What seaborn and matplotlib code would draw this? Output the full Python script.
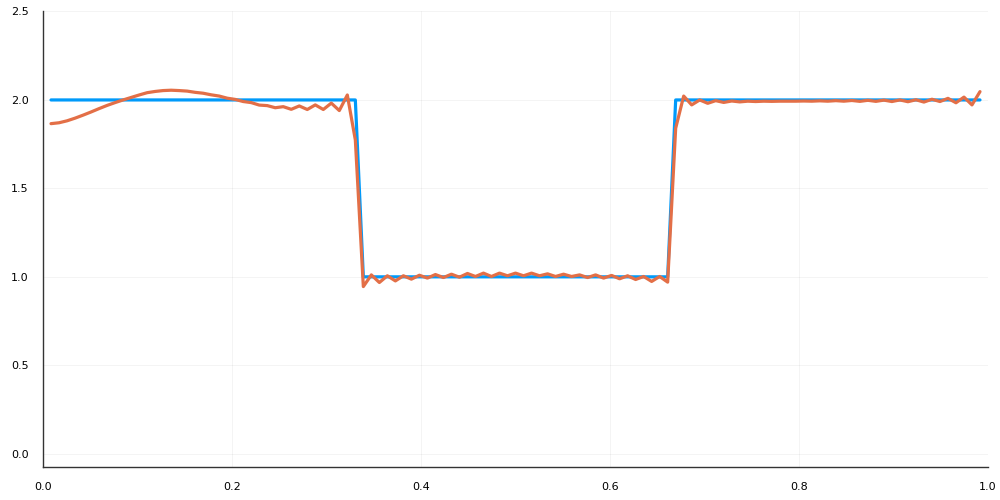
import numpy as np
import pandas as pd
import matplotlib
matplotlib.use('Agg')
import matplotlib.pyplot as plt
import seaborn as sns

# sample grid (117 samples, step 1/118)
t = np.arange(1, 118) / 118

# ideal square signal
square = [2.0] * 39 + [1.0] * 39 + [2.0] * 39

# filtered signal
filtered = [
    1.866, 1.871, 1.882, 1.897, 1.914, 1.932, 1.951, 1.969, 1.985, 2.000,
    2.014, 2.028, 2.041, 2.048, 2.053, 2.055, 2.053, 2.050, 2.043, 2.038,
    2.029, 2.022, 2.010, 2.003, 1.991, 1.985, 1.971, 1.968, 1.956, 1.962,
    1.947, 1.966, 1.946, 1.972, 1.946, 1.982, 1.940, 2.028, 1.774,
    0.945, 1.011, 0.968, 1.006, 0.977, 1.006, 0.987, 1.009, 0.993, 1.013,
    0.996, 1.015, 0.998, 1.019, 1.002, 1.021, 1.002, 1.021, 1.006, 1.021,
    1.006, 1.021, 1.006, 1.017, 1.002, 1.015, 1.002, 1.011, 0.996, 1.011,
    0.993, 1.008, 0.989, 1.006, 0.985, 1.002, 0.974, 1.002, 0.970,
    1.840, 2.022, 1.972, 2.000, 1.981, 1.996, 1.986, 1.994, 1.989, 1.993,
    1.991, 1.993, 1.992, 1.993, 1.993, 1.993, 1.994, 1.993, 1.995, 1.993,
    1.996, 1.993, 1.997, 1.992, 1.998, 1.992, 1.999, 1.991, 2.000, 1.990,
    2.001, 1.988, 2.004, 1.991, 2.009, 1.984, 2.016, 1.972, 2.047,
]

x_ticks = [0.0, 0.2, 0.4, 0.6, 0.8, 1.0]
y_ticks = [0.0, 0.5, 1.0, 1.5, 2.0, 2.5]

sns.set_style('white')
plt.rcParams['font.family'] = ['DejaVu Sans']

df = pd.DataFrame({'t': t, 'square': square, 'filtered': filtered})

fig = plt.figure(figsize=(10, 5), dpi=100)
ax = fig.add_axes([0.043, 0.066, 0.945, 0.911])

sns.lineplot(data=df, x='t', y='square', ax=ax, color='#009AFA', lw=2.3)
sns.lineplot(data=df, x='t', y='filtered', ax=ax, color='#E36F47', lw=2.3)

ax.set_xlim(0, 1)
ax.set_ylim(-0.075, 2.5)
ax.set_xticks(x_ticks)
ax.set_yticks(y_ticks)
ax.set_xticklabels(['%.1f' % v for v in x_ticks])
ax.set_yticklabels(['%.1f' % v for v in y_ticks])
ax.set_xlabel('')
ax.set_ylabel('')
ax.grid(True, color='#000000', alpha=0.05, lw=0.6)
ax.set_axisbelow(True)

for s in ['top', 'right']:
    ax.spines[s].set_visible(False)
for s in ['left', 'bottom']:
    ax.spines[s].set_color('#333333')
    ax.spines[s].set_linewidth(1.0)

ax.tick_params(axis='both', direction='in', length=3.5, width=0.8,
               color='#333333', labelsize=8, labelcolor='#000000')
ax.tick_params(axis='x', pad=11)
ax.tick_params(axis='y', pad=10.5)

fig.savefig('out.png', dpi=100, facecolor='white')
